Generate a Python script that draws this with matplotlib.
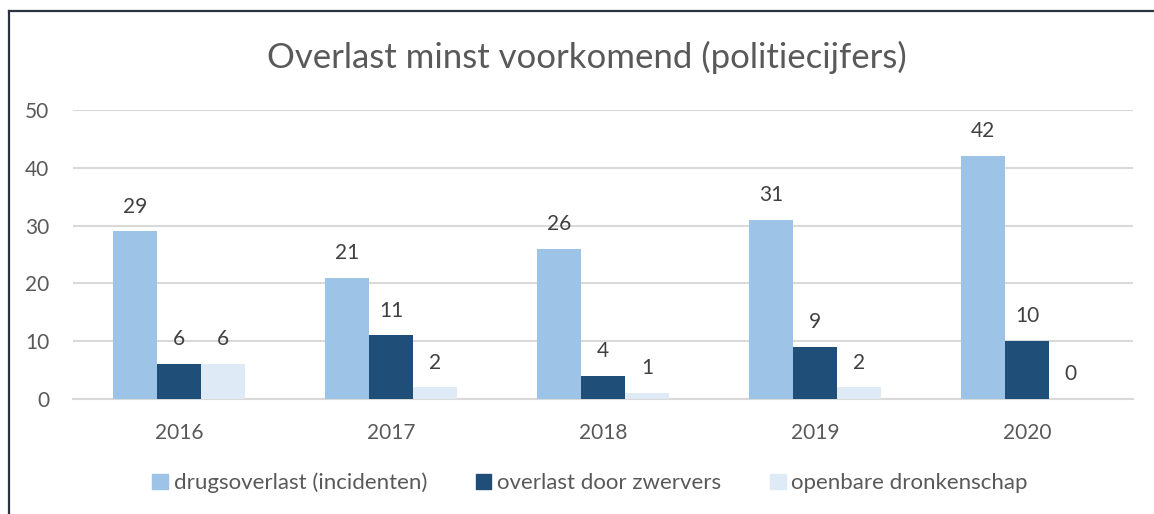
import matplotlib
matplotlib.use("Agg")
import matplotlib.pyplot as plt
import numpy as np
from matplotlib.patches import Rectangle
from matplotlib.lines import Line2D

years = ["2016", "2017", "2018", "2019", "2020"]
drugsoverlast = [29, 21, 26, 31, 42]
zwervers = [6, 11, 4, 9, 10]
dronkenschap = [6, 2, 1, 2, 0]
series_names = ["drugsoverlast (incidenten)", "overlast door zwervers", "openbare dronkenschap"]
colors = ["#9DC3E6", "#1F4E79", "#DEEBF7"]
yticks = [0, 10, 20, 30, 40, 50]

plt.rcParams['font.family'] = ['Lato', 'DejaVu Sans']
txt = "#595959"

fig = plt.figure(figsize=(11.54, 5.14), dpi=100)
W, H = 1154, 514
ax = fig.add_axes([73 / W, 1 - 399 / H, (1133 - 73) / W, (399 - 110) / H])

x = np.arange(len(years))
bw = 0.207
data = [drugsoverlast, zwervers, dronkenschap]
for i, (vals, c, name) in enumerate(zip(data, colors, series_names)):
    pos = x + (i - 1) * bw
    ax.bar(pos, vals, width=bw, color=c, label=name, zorder=3)
    for p, v in zip(pos, vals):
        ax.text(p, v + 4.3, str(v), ha='center', va='center', fontsize=15, color="#404040")

ax.set_xlim(-0.5, len(years) - 0.5)
ax.set_ylim(0, 50)
ax.set_yticks(yticks)
ax.set_xticks(x)
ax.set_xticklabels(years)
ax.yaxis.grid(True, color="#D9D9D9", linewidth=1.5, zorder=0)
ax.set_axisbelow(True)
for s in ["top", "right", "left"]:
    ax.spines[s].set_visible(False)
ax.spines["bottom"].set_color("#D9D9D9")
ax.spines["bottom"].set_linewidth(1.5)
ax.tick_params(axis='both', length=0, labelsize=15, labelcolor=txt)
ax.tick_params(axis='x', pad=17)
ax.tick_params(axis='y', pad=17)

fig.text(587 / W, 1 - 57 / H, "Overlast minst voorkomend (politiecijfers)", ha='center', va='center',
         fontsize=25, color=txt)

handles = [Rectangle((0, 0), 1, 1, color=c) for c in colors]
fig.legend(handles, series_names, loc='center', bbox_to_anchor=(590 / W, 1 - 483 / H), ncol=3,
           frameon=False, fontsize=16, labelcolor=txt, handlelength=0.7, handleheight=0.7,
           handletextpad=0.25, columnspacing=2.2)

# figure border (top and left visible)
fig.add_artist(Line2D([9 / W, 9 / W], [0, 1 - 11 / H], transform=fig.transFigure, color="#2B3340", linewidth=1.6))
fig.add_artist(Line2D([9 / W, 1], [1 - 11 / H, 1 - 11 / H], transform=fig.transFigure, color="#2B3340", linewidth=1.6))

fig.savefig("out.png", dpi=100)
